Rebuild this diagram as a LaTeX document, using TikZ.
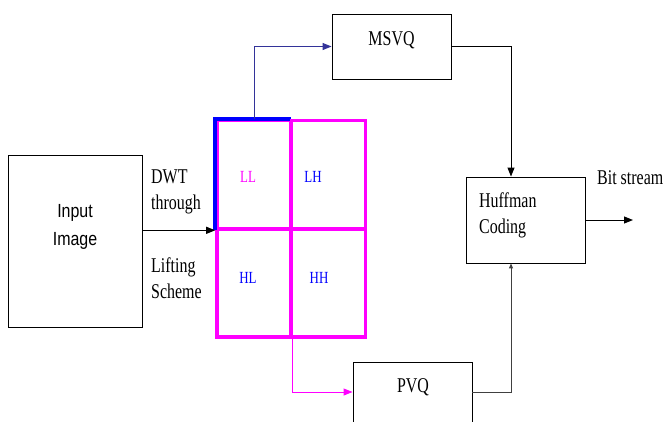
\documentclass[tikz,border=0pt]{standalone}
\usepackage{fontspec}
\setmainfont[FakeStretch=0.76]{Liberation Serif}
\newfontfamily\narrowsans[FakeStretch=0.84]{Liberation Sans}
\usetikzlibrary{arrows.meta}
\definecolor{navy}{RGB}{51,51,153}
\definecolor{mag}{RGB}{255,0,255}
\definecolor{bl}{RGB}{0,0,255}
\tikzset{
  box/.style={draw=black, line width=0.9pt, inner sep=0pt},
  cell/.style={draw=mag, line width=3.6pt, minimum width=74pt, minimum height=108pt, inner sep=0pt},
  txt/.style={font=\fontsize{21}{26}\selectfont, inner sep=0pt},
  celltxt/.style={font=\fontsize{17}{20}\selectfont, inner sep=0pt},
  arr/.style={-{Triangle[length=9pt,width=7pt]}, line width=1pt},
}
\begin{document}
\begin{tikzpicture}[x=1pt,y=-1pt]
\useasboundingbox (0,0) rectangle (666,421);
\clip (0,0) rectangle (666,421);
% boxes
\node[box, minimum width=134pt, minimum height=172pt] (inp) at (75,241) {};
\node[font=\narrowsans\fontsize{19}{28}\selectfont, align=center, inner sep=0pt] (inpt) at (75,227) {Input\\Image};
\node[box, minimum width=119pt, minimum height=65pt] (msvq) at (391.5,46.5) {};
\node[txt] (msvqt) at (391.5,40) {MSVQ};
\node[box, minimum width=119pt, minimum height=86pt] (huff) at (525.5,220) {};
\node[txt, align=left, anchor=west] (hufft) at (479,215) {Huffman\\Coding};
\node[box, minimum width=119pt, minimum height=60pt] (pvq) at (412.5,392) {};
\node[txt] (pvqt) at (413,387) {PVQ};
% grid
\node[cell] (LL) at (254,174.5) {};
\node[cell] (HL) at (254,283) {};
\node[cell] (HH) at (328.5,283) {};
\draw[bl, line width=3.6pt, line join=miter] (LL.south west) -- (LL.north west) -- ([xshift=-2pt]LL.north east);
\node[cell] (LH) at (328.5,174.5) {};
\node[celltxt, text=mag] (llt) at (248,177) {LL};
\node[celltxt, text=bl] (lht) at (313,177) {LH};
\node[celltxt, text=bl] (hlt) at (248,278) {HL};
\node[celltxt, text=bl] (hht) at (319,278) {HH};
% labels
\node[txt, align=left, anchor=west] (dwt) at (151,192) {DWT\\through};
\node[txt, align=left, anchor=west] (lift) at (151,278) {Lifting\\Scheme};
\node[txt, anchor=west] (bits) at (597,178) {Bit stream};
\coordinate (out) at (633,220);
\coordinate (hufftop) at ([xshift=-14.5pt]huff.north);
\coordinate (huffbot) at ([xshift=-14.5pt]huff.south);
% connectors
\draw[arr] (inp.east |- LL.south west) -- (LL.south west);
\draw[arr, navy] (LL.north) -- (LL.north |- msvq.west) -- (msvq.west);
\draw[arr] (msvq.east) -| (hufftop);
\draw[arr] (huff.east) -- (out);
\draw[arr, mag] (HL.south east) -- (HL.south east |- pvq.west) -- (pvq.west);
\draw[black!75, line width=1pt, -{Triangle[length=5pt,width=4pt]}] (pvq.east) -| (huffbot);
\end{tikzpicture}
\end{document}
